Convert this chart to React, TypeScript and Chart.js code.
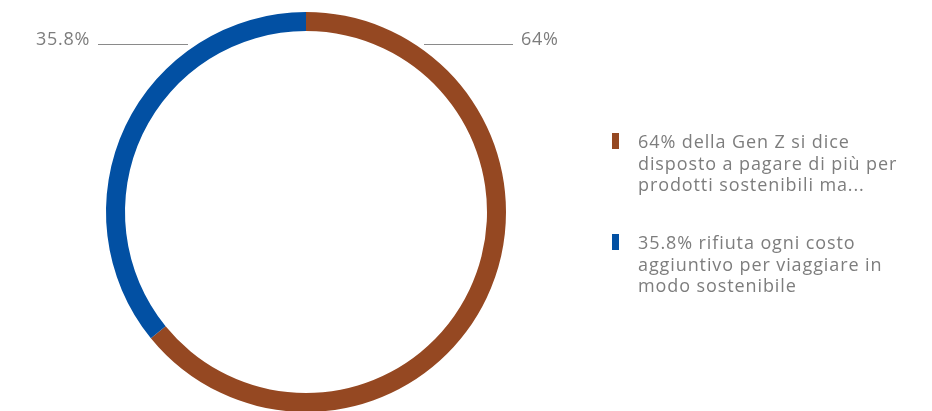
import React, { useEffect, useRef } from "react";
import { Chart, registerables } from "chart.js";

Chart.register(...registerables);

const categories = [
  "64% della Gen Z si dice disposto a pagare di più per prodotti sostenibili ma...",
  "35.8% rifiuta ogni costo aggiuntivo per viaggiare in modo sostenibile",
];
const values = [64, 35.8];
const sliceLabels = ["64%", "35.8%"];
const colors = ["#954822", "#0250A3"];
const legendLines = [
  ["64% della Gen Z si dice", "disposto a pagare di più per", "prodotti sostenibili ma..."],
  ["35.8% rifiuta ogni costo", "aggiuntivo per viaggiare in", "modo sostenibile"],
];

const FONT = "'Open Sans', sans-serif";
const TEXT_COLOR = "#7d7d7d";

const leaderPlugin = {
  id: "leaders",
  afterDraw(chart: any) {
    const ctx = chart.ctx;
    ctx.save();
    ctx.strokeStyle = "#8a8a8a";
    ctx.lineWidth = 1;
    ctx.fillStyle = TEXT_COLOR;
    ctx.font = `18px ${FONT}`;
    try { ctx.letterSpacing = "0.7px"; } catch (e) {}
    ctx.textBaseline = "alphabetic";
    const y = 44.5;
    // right label (64%)
    ctx.beginPath();
    ctx.moveTo(424, y);
    ctx.lineTo(513, y);
    ctx.stroke();
    ctx.textAlign = "left";
    ctx.fillText(sliceLabels[0], 521, 45);
    // left label (35.8%)
    ctx.beginPath();
    ctx.moveTo(98, y);
    ctx.lineTo(188, y);
    ctx.stroke();
    ctx.textAlign = "right";
    ctx.fillText(sliceLabels[1], 90, 45);
    ctx.restore();
  },
};

export default function App() {
  const ref = useRef<HTMLCanvasElement>(null);
  useEffect(() => {
    document.body.style.margin = "0";
    const chart = new Chart(ref.current!, {
      type: "doughnut",
      data: {
        labels: categories,
        datasets: [
          {
            data: values,
            backgroundColor: colors,
            borderWidth: 0,
          },
        ],
      },
      options: {
        animation: false,
        responsive: false,
        cutout: "90.5%",
        layout: { padding: { left: 106, right: 426, top: 12, bottom: 0 } },
        plugins: { legend: { display: false }, tooltip: { enabled: false } },
      },
      plugins: [leaderPlugin],
    });
    return () => chart.destroy();
  }, []);

  const tops = [131, 232];
  return (
    <div style={{ position: "relative", width: 932, height: 411, overflow: "hidden", background: "#fff" }}>
      <canvas ref={ref} width={932} height={412} style={{ position: "absolute", left: 0, top: 0 }} />
      {legendLines.map((lines, i) => (
        <div key={i} style={{ position: "absolute", left: 612, top: tops[i] }}>
          <div style={{ position: "absolute", left: 0, top: 2, width: 7, height: 16, background: colors[i] }} />
          <div
            style={{
              position: "absolute",
              left: 26,
              top: 0,
              whiteSpace: "nowrap",
              fontFamily: FONT,
              fontSize: 18,
              letterSpacing: "0.9px",
              lineHeight: "21.5px",
              color: TEXT_COLOR,
            }}
          >
            {lines.map((l, j) => (
              <div key={j}>{l}</div>
            ))}
          </div>
        </div>
      ))}
    </div>
  );
}
